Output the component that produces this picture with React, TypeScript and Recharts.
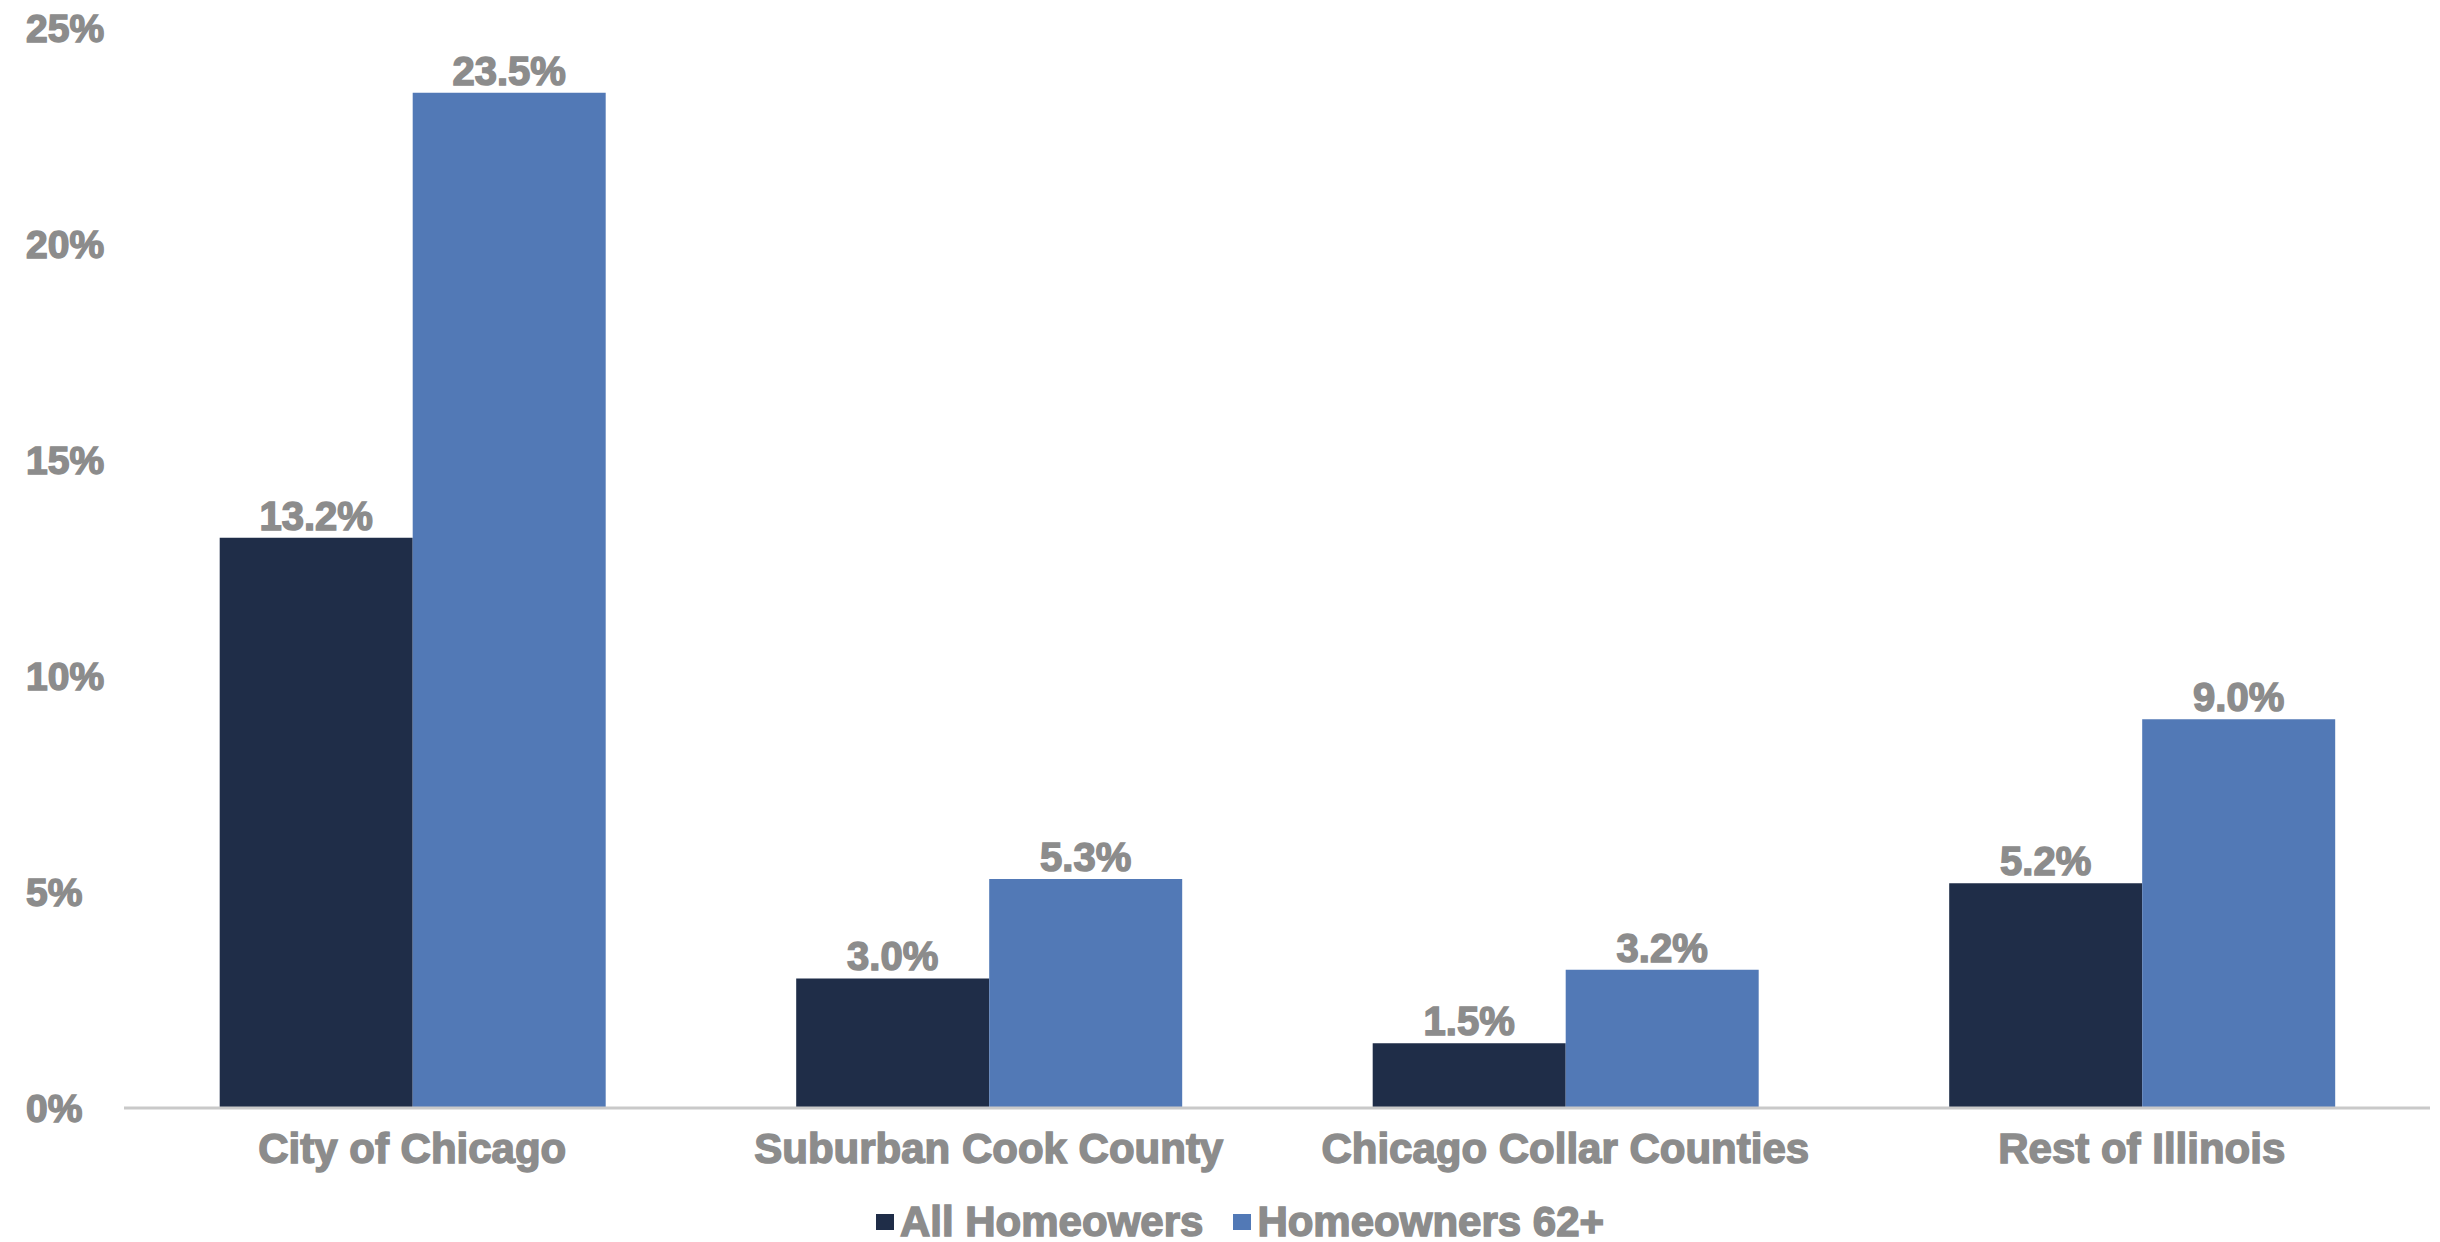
import React from 'react'
import { BarChart, Bar, XAxis, YAxis, Legend, LabelList } from 'recharts'

const regions = ['City of Chicago', 'Suburban Cook County', 'Chicago Collar Counties', 'Rest of Illinois']
const allHomeowners = [13.2, 3.0, 1.5, 5.2]
const homeowners62 = [23.5, 5.3, 3.2, 9.0]
const yTicks = [0, 5, 10, 15, 20, 25]

const seriesNames = ['All Homeowers', 'Homeowners 62+']
const colors = ['#1f2d48', '#5279b6']
const grey = '#8c8c8c'
const font = '"Liberation Sans", Arial, sans-serif'

const data = regions.map((region, i) => ({
  region,
  all: allHomeowners[i],
  senior: homeowners62[i],
}))

const YTick = (props: any) => {
  const { y, payload } = props
  return (
    <text x={26} y={y} dy="0.36em" textAnchor="start" fill={grey} stroke={grey} strokeWidth={1.5}
          fontSize={39} fontWeight="bold" fontFamily={font}>
      {payload.value}%
    </text>
  )
}

const LegendBox = () => (
  <div style={{ display: 'flex', justifyContent: 'center', paddingLeft: 50, gap: 30,
                fontFamily: font, fontWeight: 'bold', fontSize: 42, color: grey,
                WebkitTextStroke: `1.5px ${grey}`, lineHeight: '48px' }}>
    {seriesNames.map((name, i) => (
      <span key={name} style={{ display: 'inline-flex', alignItems: 'center' }}>
        <span style={{ display: 'inline-block', width: 18, height: 16, background: colors[i],
                       marginRight: 6, WebkitTextStroke: '0' }} />
        {name}
      </span>
    ))}
  </div>
)

const fmt = (v: any) => `${Number(v).toFixed(1)}%`

export default function App() {
  return (
    <div style={{ position: 'absolute', left: 0, top: 0, width: 2440, height: 1242, background: '#fff' }}>
      <BarChart width={2440} height={1242} data={data}
                margin={{ top: 28, right: 10, bottom: 0, left: 0 }}
                barCategoryGap="16.6%" barGap={0}>
        <XAxis dataKey="region" height={90} tickLine={false} tickMargin={19}
               axisLine={{ stroke: '#c9c9c9', strokeWidth: 3 }}
               tick={{ fill: grey, stroke: grey, strokeWidth: 1.5, fontSize: 42, fontWeight: 'bold', fontFamily: font }} />
        <YAxis width={124} domain={[0, 25]} ticks={yTicks} axisLine={false} tickLine={false}
               tick={<YTick />} />
        <Legend verticalAlign="bottom" height={44} content={<LegendBox />} />
        <Bar dataKey="all" name={seriesNames[0]} fill={colors[0]} isAnimationActive={false}>
          <LabelList dataKey="all" position="top" offset={8} formatter={fmt}
                     fill={grey} stroke={grey} strokeWidth={1.5} fontSize={40} fontWeight="bold" fontFamily={font} />
        </Bar>
        <Bar dataKey="senior" name={seriesNames[1]} fill={colors[1]} isAnimationActive={false}>
          <LabelList dataKey="senior" position="top" offset={8} formatter={fmt}
                     fill={grey} stroke={grey} strokeWidth={1.5} fontSize={40} fontWeight="bold" fontFamily={font} />
        </Bar>
      </BarChart>
    </div>
  )
}
